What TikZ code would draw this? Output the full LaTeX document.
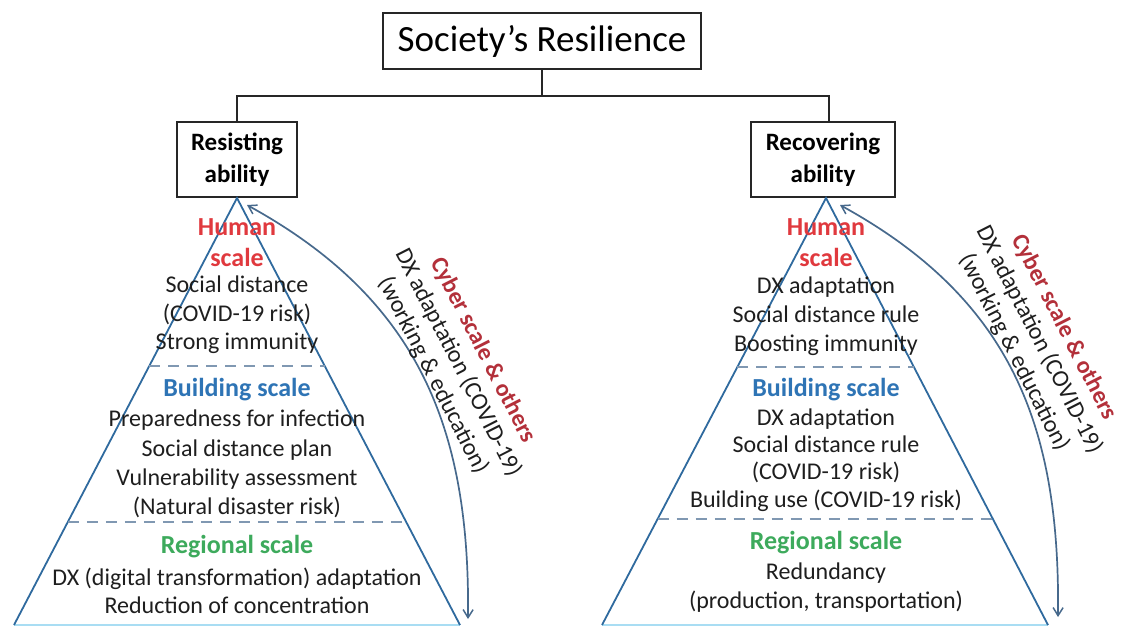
\documentclass[tikz,border=0pt]{standalone}
\usepackage{fontspec}
\setmainfont{Carlito}
\usetikzlibrary{arrows.meta,calc}
\definecolor{triline}{HTML}{2F6A9E}
\definecolor{dashline}{HTML}{8098B2}
\definecolor{arrline}{HTML}{47698C}
\definecolor{humcol}{HTML}{E0393E}
\definecolor{bldcol}{HTML}{2E74B5}
\definecolor{regcol}{HTML}{3DAA5C}
\definecolor{cybcol}{HTML}{B3303A}
\definecolor{basecol}{HTML}{A9DDF3}
\definecolor{bodycol}{HTML}{1E1E1E}

\begin{document}
\begin{tikzpicture}[x=1pt,y=-1pt,
  box/.style={draw=black!85,line width=1.8pt,inner sep=0pt,align=center,text=black},
  bus/.style={draw=black!85,line width=2pt},
  side/.style={draw=triline,line width=1.8pt},
  base/.style={draw=basecol,line width=1.5pt},
  divider/.style={draw=dashline,line width=1.6pt,dash pattern=on 11pt off 8pt},
  cycle arrow/.style={draw=arrline,line width=1.7pt,
    {Straight Barb[length=8pt,width=10pt,line width=1.5pt]}-{Straight Barb[length=8pt,width=10pt,line width=1.5pt]}},
  items/.style={align=center,text=bodycol,inner sep=0pt,font=\fontsize{24}{28.5}\selectfont},
  scalelabel/.style={align=center,inner sep=0pt,font=\bfseries\fontsize{26}{31}\selectfont},
  cyber/.style={rotate=-63,align=center,text=bodycol,inner sep=0pt,font=\fontsize{24}{28}\selectfont}
]
\useasboundingbox (0,0) rectangle (1121,626);

% hierarchy boxes
\node[box,minimum width=318,minimum height=56,font=\fontsize{37}{44}\selectfont] (soc) at (542,41) {Society’s Resilience};
\node[box,minimum width=120,minimum height=75,font=\bfseries\fontsize{25}{32}\selectfont] (res) at (237,159.5) {Resisting\\ability};
\node[box,minimum width=144,minimum height=75,font=\bfseries\fontsize{25}{32}\selectfont] (rec) at (823,159.5) {Recovering\\ability};

\coordinate (junction) at (542,96);
\draw[bus] (soc.south) -- (junction) -| (res.north);
\draw[bus] (junction) -| ([xshift=6]rec.north);

% left pyramid
\coordinate (lA) at (237,198);
\coordinate (lL) at (14,625);
\coordinate (lR) at (460,625);
\draw[base] (lL) -- (lR);
\draw[side] (lL) -- (lA) -- (lR);
\draw[divider] ($(lA)!0.3934!(lL)$) -- ($(lA)!0.3934!(lR)$);
\draw[divider] ($(lA)!0.7588!(lL)$) -- ($(lA)!0.7588!(lR)$);

% right pyramid
\coordinate (rA) at (826,198);
\coordinate (rL) at (602,625);
\coordinate (rR) at (1048,625);
\draw[base] (rL) -- (rR);
\draw[side] (rL) -- (rA) -- (rR);
\draw[divider] ($(rA)!0.3958!(rL)$) -- ($(rA)!0.3958!(rR)$);
\draw[divider] ($(rA)!0.7518!(rL)$) -- ($(rA)!0.7518!(rR)$);

% left pyramid texts
\node[scalelabel,text=humcol] (lhum) at (237,242.5) {Human\\scale};
\node[items] (lhumi) at (237,315) {Social distance\\(COVID-19 risk)\\Strong immunity};
\node[scalelabel,text=bldcol] (lbld) at (237,390) {Building scale};
\node[items,font=\fontsize{24}{29.3}\selectfont] (lbldi) at (237,464) {Preparedness for infection\\Social distance plan\\Vulnerability assessment\\(Natural disaster risk)};
\node[scalelabel,text=regcol] (lreg) at (237,547) {Regional scale};
\node[items] (lregi) at (237,591) {DX (digital transformation) adaptation\\Reduction of concentration};

% right pyramid texts
\node[scalelabel,text=humcol] (rhum) at (826,242.5) {Human\\scale};
\node[items,font=\fontsize{24}{29}\selectfont] (rhumi) at (826,316) {DX adaptation\\Social distance rule\\Boosting immunity};
\node[scalelabel,text=bldcol] (rbld) at (826,390) {Building scale};
\node[items,font=\fontsize{24}{27.3}\selectfont] (rbldi) at (826,460) {DX adaptation\\Social distance rule\\(COVID-19 risk)\\Building use (COVID-19 risk)};
\node[scalelabel,text=regcol] (rreg) at (826,543) {Regional scale};
\node[items,font=\fontsize{24}{29}\selectfont] (rregi) at (826,587.5) {Redundancy\\(production, transportation)};

% cyber-scale arrows and labels
\coordinate (la1) at (247,205);
\coordinate (la2) at (468,619);
\draw[cycle arrow] (la1) .. controls (420,300) and (470,430) .. (la2);
\node[cyber] (lcyb) at (458,363) {\textcolor{cybcol}{\bfseries Cyber scale \& others}\\DX adaptation (COVID-19)\\(working \& education)};

\coordinate (ra1) at (840,205);
\coordinate (ra2) at (1058,617);
\draw[cycle arrow] (ra1) .. controls (1013,300) and (1060,428) .. (ra2);
\node[cyber] (rcyb) at (1039,340) {\textcolor{cybcol}{\bfseries Cyber scale \& others}\\DX adaptation (COVID-19)\\(working \& education)};
\end{tikzpicture}
\end{document}
